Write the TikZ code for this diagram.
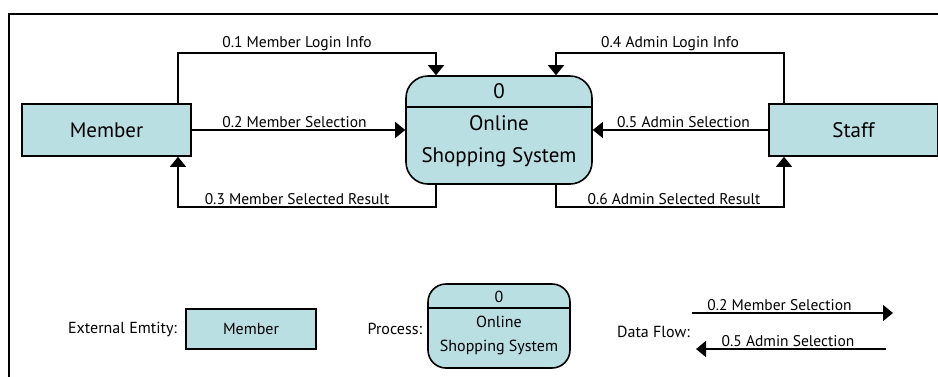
\documentclass[tikz,border=0pt]{standalone}
\usepackage{fontspec}
\setmainfont{PT Sans}
\usetikzlibrary{positioning,arrows.meta}
\definecolor{boxfill}{RGB}{185,223,227}

\begin{document}
\begin{tikzpicture}[
      x=1pt, y=-1pt,
      entity/.style={draw,line width=1.6pt,fill=boxfill,minimum width=169pt,minimum height=52pt,font=\fontsize{21}{25}\selectfont},
      process/.style={draw,line width=1.6pt,fill=boxfill,rounded corners=22pt,minimum width=186pt,minimum height=108pt},
      flow/.style={-{Triangle[length=10pt,width=16pt]},line width=1.3pt},
      lbl/.style={font=\fontsize{15.5}{18}\selectfont,inner sep=1.5pt},
      bigtxt/.style={font=\fontsize{21}{32}\selectfont,inner sep=0pt},
      legtxt/.style={font=\fontsize{16}{24}\selectfont,inner sep=0pt}
    ]
      \useasboundingbox (0,0) rectangle (938,376);
      \draw[line width=1.6pt] (9,380) -- (9,14) -- (940,14);

      % main diagram
      \node[entity] (member) at (106.5,130) {Member};
      \node[entity] (staff) at (853.5,130) {Staff};
      \node[process] (proc) at (499,130) {};
      \coordinate (procdiv) at (0,107);
      \draw[line width=1.3pt] (proc.west |- procdiv) -- (proc.east |- procdiv);
      \node[bigtxt] (procnum) at (499,91) {0};
      \node[bigtxt,align=center] (procname) at (499,141) {Online\\Shopping System};

      \coordinate (mtop) at (178,53);
      \coordinate (ptop1) at (436,53);
      \coordinate (ptop2) at (556,53);
      \coordinate (stop) at (784,53);
      \coordinate (mlow) at (178,207);
      \coordinate (plow1) at (436,207);
      \coordinate (plow2) at (556,207);
      \coordinate (slow) at (784,207);

      \draw[flow] (member.north -| mtop) -- (mtop) -- node[lbl,above,xshift=-10pt]{0.1 Member Login Info} (ptop1) -- (proc.north -| ptop1);
      \draw[flow] (member.east) -- node[lbl,above,xshift=-4pt]{0.2 Member Selection} (proc.west);
      \draw[flow] (proc.south -| plow1) -- (plow1) -- node[lbl,above,xshift=-10pt]{0.3 Member Selected Result} (mlow) -- (member.south -| mlow);
      \draw[flow] (staff.north -| stop) -- (stop) -- node[lbl,above]{0.4 Admin Login Info} (ptop2) -- (proc.north -| ptop2);
      \draw[flow] (staff.west) -- node[lbl,above,xshift=3pt]{0.5 Admin Selection} (proc.east);
      \draw[flow] (proc.south -| plow2) -- (plow2) -- node[lbl,above,xshift=4pt]{0.6 Admin Selected Result} (slow) -- (staff.south -| slow);

      % legend
      \node[entity,minimum width=130pt,minimum height=40pt,font=\fontsize{16}{20}\selectfont] (legent) at (251,329) {Member};
      \node[legtxt,left=8pt of legent] (legentlbl) {External Emtity:};
      \node[process,minimum width=142pt,minimum height=84pt,rounded corners=18pt] (legproc) at (499,326) {};
      \coordinate (legdiv) at (0,308);
      \draw[line width=1.3pt] (legproc.west |- legdiv) -- (legproc.east |- legdiv);
      \node[legtxt] (legnum) at (499,297) {0};
      \node[legtxt,align=center] (legname) at (499,335) {Online\\Shopping System};
      \node[legtxt,left=5pt of legproc,yshift=-3pt] (legproclbl) {Process:};

      \coordinate (fa1) at (692,313);
      \coordinate (fa2) at (893,313);
      \coordinate (fb1) at (886,349);
      \coordinate (fb2) at (696,349);
      \draw[flow] (fa1) -- node[lbl,above,xshift=-13pt]{0.2 Member Selection} (fa2);
      \draw[flow] (fb1) -- node[lbl,above,xshift=-3pt]{0.5 Admin Selection} (fb2);
      \node[legtxt,anchor=east] (legflowlbl) at (690,332) {Data Flow:};
    \end{tikzpicture}
\end{document}
